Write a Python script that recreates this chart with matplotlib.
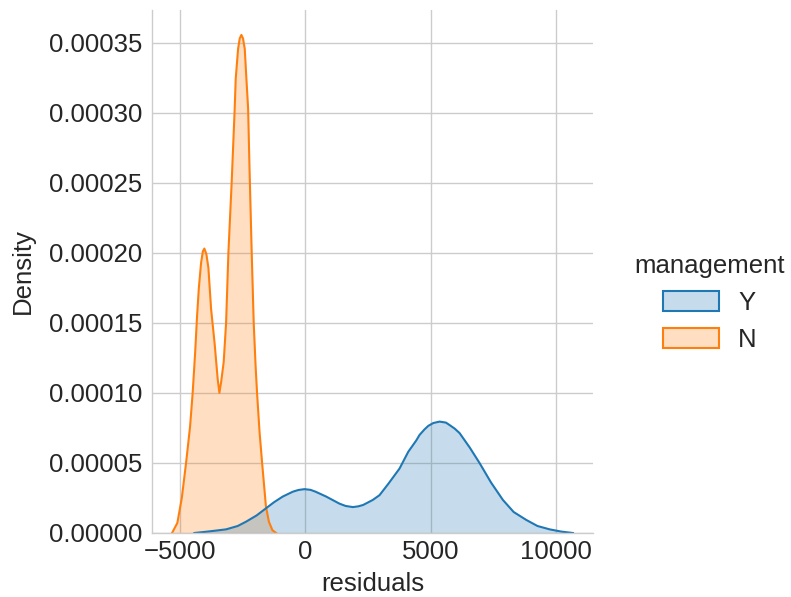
import matplotlib
matplotlib.use("Agg")
import matplotlib.pyplot as plt
from matplotlib.ticker import FixedLocator, FormatStrFormatter
from matplotlib.patches import Patch

# Density curves (residuals vs density)
n_x = [-5319, -5107, -4930, -4760, -4600, -4497, -4400, -4321, -4250, -4160, -4090, -4030,
       -3950, -3870, -3763, -3620, -3500, -3431, -3360, -3260, -3164, -3072, -2940,
       -2821, -2781, -2686, -2620, -2554, -2490, -2420, -2354, -2286, -2230, -2143,
       -2063, -1990, -1930, -1830, -1728, -1576, -1456, -1317, -1169]
n_d = [0, 7.2e-6, 2.5e-5, 5.0e-5, 7.6e-5, 1.0e-4, 1.28e-4, 1.55e-4, 1.75e-4, 1.93e-4, 2.01e-4, 2.03e-4,
       1.99e-4, 1.893e-4, 1.6e-4, 1.35e-4, 1.1e-4, 1.0e-4, 1.08e-4, 1.22e-4, 1.5e-4, 2.0e-4, 2.51e-4,
       3.03e-4, 3.24e-4, 3.455e-4, 3.53e-4, 3.555e-4, 3.53e-4, 3.455e-4, 3.24e-4, 3.03e-4, 2.6e-4, 2.0e-4,
       1.5e-4, 1.2e-4, 1.0e-4, 7.2e-5, 5.0e-5, 1.9e-5, 8e-6, 2e-6, 0]

y_x = [-4429, -3900, -3164, -2700, -2366, -1950, -1568, -1250, -906, -500, -280, -40, 200, 400, 826,
       1350, 1600, 1888, 2100, 2300, 2685, 2953, 3300, 3751, 4100, 4416, 4549, 4750, 4900, 5100, 5347,
       5600, 5750, 5950, 6145, 6550, 6943, 7400, 7872, 8300, 8806, 9250, 9736, 10200, 10665]
y_d = [0, 1.0e-6, 2.6e-6, 5.0e-6, 8.1e-6, 1.25e-5, 1.77e-5, 2.2e-5, 2.6e-5, 2.95e-5, 3.07e-5, 3.13e-5, 3.08e-5, 2.95e-5, 2.6e-5,
       2.1e-5, 1.93e-5, 1.85e-5, 1.9e-5, 2.0e-5, 2.36e-5, 2.7e-5, 3.5e-5, 4.6e-5, 5.8e-5, 6.6e-5, 7.0e-5, 7.4e-5, 7.65e-5, 7.85e-5, 7.95e-5,
       7.88e-5, 7.7e-5, 7.45e-5, 7.13e-5, 6.1e-5, 4.99e-5, 3.6e-5, 2.36e-5, 1.5e-5, 9.3e-6, 5.0e-6, 2.6e-6, 1.0e-6, 0]

x_ticks = [-5000, 0, 5000, 10000]
y_ticks = [0, 0.00005, 0.0001, 0.00015, 0.0002, 0.00025, 0.0003, 0.00035]
levels = ["Y", "N"]
colors = {"Y": "#1f77b4", "N": "#ff7f0e"}

plt.rcParams['font.family'] = ['Liberation Sans', 'DejaVu Sans']
text_color = '0.15'
fs = 18.5

fig = plt.figure(figsize=(7.91, 5.97), dpi=100)
ax = fig.add_axes([152/791, 1 - 533/597, (593 - 152)/791, (533 - 10)/597])

curves = {"Y": (y_x, y_d), "N": (n_x, n_d)}
for lvl in ["N", "Y"]:
    xs, ds = curves[lvl]
    c = colors[lvl]
    ax.fill_between(xs, ds, 0, color=c, alpha=0.25, linewidth=0)
    ax.plot(xs, ds, color=c, linewidth=1.5)

all_x = n_x + y_x
span = max(all_x) - min(all_x)
ax.set_xlim(min(all_x) - 0.05 * span, max(all_x) + 0.05 * span)
ax.set_ylim(0, max(n_d + y_d) * 1.05)

ax.xaxis.set_major_locator(FixedLocator(x_ticks))
ax.yaxis.set_major_locator(FixedLocator(y_ticks))
ax.yaxis.set_major_formatter(FormatStrFormatter('%.5f'))

ax.grid(True, color='#cccccc', linewidth=1.0)
ax.set_axisbelow(True)
for s in ['top', 'right']:
    ax.spines[s].set_visible(False)
for s in ['left', 'bottom']:
    ax.spines[s].set_color('#cccccc')
    ax.spines[s].set_linewidth(1.0)
ax.tick_params(length=0, labelsize=fs, labelcolor=text_color)
ax.tick_params(axis='y', pad=7)
ax.tick_params(axis='x', pad=5)
ax.set_xlabel("residuals", fontsize=fs, color=text_color, labelpad=6)
ax.set_ylabel("Density", fontsize=fs, color=text_color, labelpad=10)

handles = [Patch(facecolor=colors[l] + "40", edgecolor=colors[l], linewidth=1.5, label=l) for l in levels]
leg = fig.legend(handles=handles, title="management", loc='center',
                 bbox_to_anchor=(710/791, 1 - 303/597), frameon=False,
                 fontsize=fs, title_fontsize=fs, handlelength=2.15, handleheight=0.8,
                 labelspacing=0.5, handletextpad=0.75)
for t in leg.get_texts():
    t.set_color(text_color)
leg.get_title().set_color(text_color)

fig.savefig("out.png", dpi=100)
